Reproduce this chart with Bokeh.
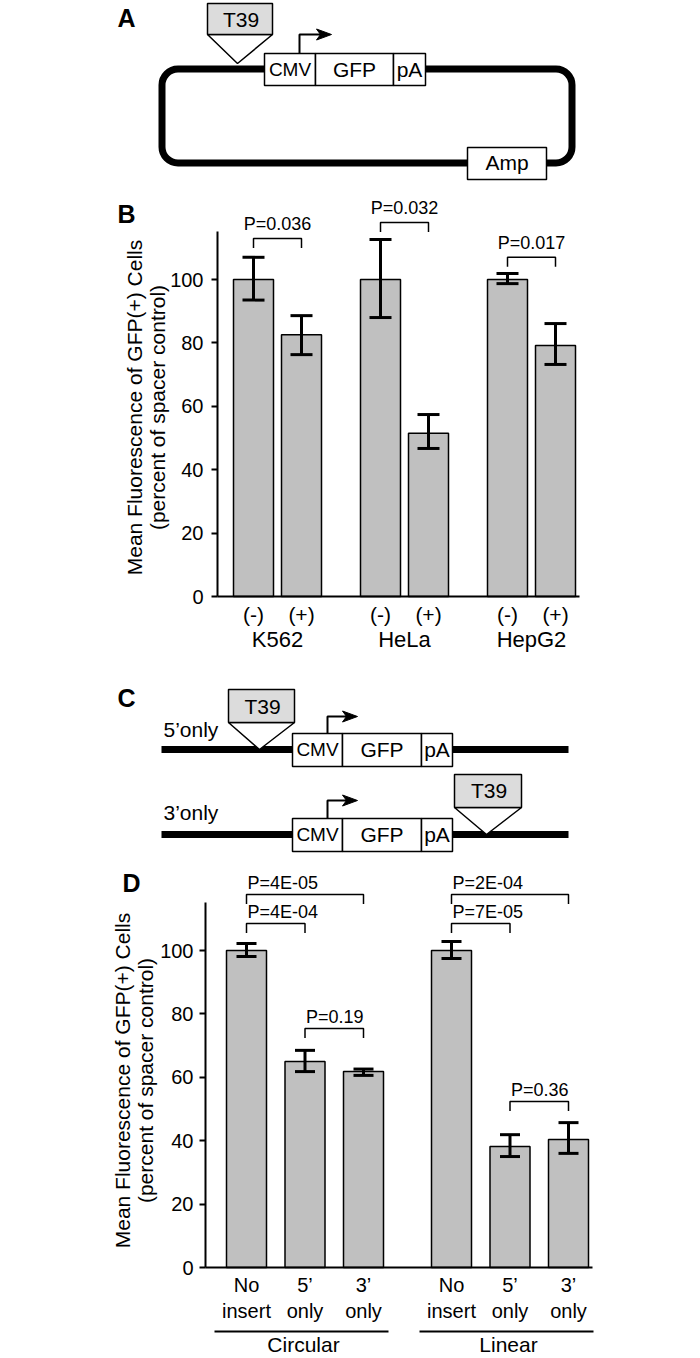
import math
from bokeh.plotting import figure
from bokeh.layouts import column
from bokeh.models import Range1d, FixedTicker
from bokeh.embed import file_html
from bokeh.resources import INLINE
from bokeh.core.properties import value

FONT = "Liberation Sans"
BAR_FILL = "#c0c0c0"
INSERT_FILL = "#dcdcdc"
W = 700
BASE_FIX = 0.4  # em correction of the text glyph's alphabetic baseline

# ---------------- data ----------------
b_groups = ["K562", "HeLa", "HepG2"]
b_subs = ["(-)", "(+)"]
b_means = [100.0, 82.6, 100.0, 51.5, 100.0, 79.2]
b_upper = [107.0, 88.6, 112.6, 57.4, 101.9, 86.1]
b_lower = [93.5, 76.3, 88.0, 46.7, 98.7, 73.2]
b_compare = [(0, 1), (2, 3), (4, 5)]
b_pvalues = ["P=0.036", "P=0.032", "P=0.017"]
b_bracket_level = [112.9, 118.0, 107.0]

d_groups = ["Circular", "Linear"]
d_subs_line1 = ["No", "5\u2019", "3\u2019"]
d_subs_line2 = ["insert", "only", "only"]
d_means = [100.0, 65.0, 61.8, 100.0, 38.2, 40.4]
d_upper = [102.2, 68.5, 62.6, 102.8, 41.9, 45.7]
d_lower = [98.1, 61.8, 60.6, 97.5, 35.0, 36.0]
d_compare = [(0, 2), (0, 1), (1, 2), (3, 5), (3, 4), (4, 5)]
d_pvalues = ["P=4E-05", "P=4E-04", "P=0.19", "P=2E-04", "P=7E-05", "P=0.36"]
d_bracket_level = [117.7, 108.5, 75.4, 117.7, 108.5, 52.4]

y_ticks = [0, 20, 40, 60, 80, 100]
y_title = ["Mean Fluorescence of GFP(+) Cells", "(percent of spacer control)"]
panel_letters = ["A", "B", "C", "D"]
construct_parts = ["CMV", "GFP", "pA"]
insert_name = "T39"
marker_name = "Amp"
linear_names = ["5\u2019only", "3\u2019only"]

PX = 3.17  # pixels per percent unit


def txt(p, x, y, t, size, align="center", bold=False, angle=0.0):
    px = float(size.replace("px", ""))
    off = -BASE_FIX * px if angle == 0.0 else 0.0
    p.text(x=x, y=y, text=t, text_font=value(FONT), text_font_size=size,
           text_align=align, text_baseline="alphabetic", text_color="black",
           text_font_style="bold" if bold else "normal", angle=angle,
           y_offset=off)


def diagram_fig(height):
    p = figure(width=W, height=height, x_range=Range1d(0, W),
               y_range=Range1d(0, height), x_axis_location=None,
               y_axis_location=None, toolbar_location=None,
               output_backend="svg", min_border=0)
    p.outline_line_color = None
    p.grid.visible = False
    return p


def box(p, Y, l, r, t, b, fill="white"):
    p.quad(left=[l], right=[r], top=[Y(t)], bottom=[Y(b)], fill_color=fill,
           line_color="black", line_width=1.5)


def cassette(p, Y, left, divs, right, top, bottom, base):
    edges = [left] + divs + [right]
    for k in range(3):
        box(p, Y, edges[k], edges[k + 1], top, bottom)
    sizes = ["19px", "21px", "21px"]
    for k, name in enumerate(construct_parts):
        txt(p, [(edges[k] + edges[k + 1]) / 2], [Y(base)], [name], sizes[k])


def promoter_arrow(p, Y, x, ybox, yturn, xtip):
    p.line(x=[x, x, xtip - 9], y=[Y(ybox), Y(yturn), Y(yturn)],
           line_color="black", line_width=2)
    p.patch(x=[xtip, xtip - 15, xtip - 11, xtip - 15],
            y=[Y(yturn), Y(yturn - 5.5), Y(yturn), Y(yturn + 5.5)],
            fill_color="black", line_color="black", line_width=1)


def insert_flag(p, Y, l, r, t, b, apex_x, apex_y, base):
    p.patch(x=[l, r, apex_x], y=[Y(b), Y(b), Y(apex_y)], fill_color="white",
            line_color="black", line_width=1.5)
    box(p, Y, l, r, t, b, INSERT_FILL)
    txt(p, [(l + r) / 2 + 1], [Y(base)], [insert_name], "21px")


# ---------------- Panel A ----------------
A_TOP, A_H = 0, 190
YA = lambda py: A_TOP + A_H - py
pA = diagram_fig(A_H)
pA.quad(left=[161.5], right=[571.5], top=[YA(68.5)], bottom=[YA(162.5)],
        fill_color=None, line_color="black", line_width=7, border_radius=16)
insert_flag(pA, YA, 207, 272, 3, 34, 237, 63, 27)
cassette(pA, YA, 264, [315, 393], 425, 53, 85, 77)
promoter_arrow(pA, YA, 299, 53, 34, 331)
box(pA, YA, 467, 546, 147, 179)
txt(pA, [506.5], [YA(170)], [marker_name], "21px")
txt(pA, [117], [YA(27)], [panel_letters[0]], "25px", align="left", bold=True)

# ---------------- Panel C ----------------
C_TOP, C_H = 656, 214
YC = lambda py: C_TOP + C_H - py
pC = diagram_fig(C_H)
for ly in (749, 834):
    pC.line(x=[161, 568], y=[YC(ly), YC(ly)], line_color="black", line_width=7)
insert_flag(pC, YC, 228, 294, 689, 722, 259, 749, 714)
cassette(pC, YC, 292, [342, 421], 452, 733, 766, 757)
promoter_arrow(pC, YC, 327, 733, 716, 357)
txt(pC, [163], [YC(737)], [linear_names[0]], "21px", align="left")
cassette(pC, YC, 292, [342, 421], 452, 818, 851, 842)
promoter_arrow(pC, YC, 327, 818, 800, 357)
insert_flag(pC, YC, 454, 521, 774, 807, 486, 834, 798)
txt(pC, [163], [YC(820)], [linear_names[1]], "21px", align="left")
txt(pC, [117], [YC(707)], [panel_letters[2]], "25px", align="left", bold=True)


# ---------------- bar panels ----------------
def bar_fig(top, height, zero_py, axis_px, standoff):
    yv = lambda py: (zero_py - py) / PX
    p = figure(width=W, height=height, x_range=Range1d(-axis_px, W - axis_px),
               y_range=Range1d(yv(top + height), yv(top)),
               x_axis_location=None, y_axis_location="left",
               toolbar_location=None, output_backend="svg", min_border=0)
    p.outline_line_color = None
    p.grid.visible = False
    ax = p.yaxis[0]
    ax.fixed_location = 0
    ax.ticker = FixedTicker(ticks=y_ticks)
    ax.bounds = (0, 115)
    ax.axis_line_width = 2
    ax.axis_line_color = "black"
    ax.major_tick_line_width = 2
    ax.major_tick_line_color = "black"
    ax.major_tick_out = 6
    ax.major_tick_in = 0
    ax.minor_tick_line_color = None
    ax.major_label_text_font = FONT
    ax.major_label_text_font_size = "20px"
    ax.major_label_text_color = "black"
    ax.major_label_standoff = standoff
    return p, yv


def draw_bars(p, xs, means, upper, lower, cap, compare, pvals, levels,
              p_align, p_gap):
    p.vbar(x=xs, width=40, top=means, bottom=0, fill_color=BAR_FILL,
           line_color="black", line_width=1.5)
    end = max(xs) + 20 + 4
    p.line(x=[0, end], y=[0, 0], line_color="black", line_width=2)
    p.segment(x0=xs, y0=lower, x1=xs, y1=upper, line_color="black", line_width=3)
    p.segment(x0=[x - cap for x in xs], y0=upper, x1=[x + cap for x in xs],
              y1=upper, line_color="black", line_width=3)
    p.segment(x0=[x - cap for x in xs], y0=lower, x1=[x + cap for x in xs],
              y1=lower, line_color="black", line_width=3)
    drop = 9.5 / PX
    bx, by_ = [], []
    for (i, j), lv in zip(compare, levels):
        bx.append([xs[i], xs[i], xs[j], xs[j]])
        by_.append([lv - drop, lv, lv, lv - drop])
    p.multi_line(xs=bx, ys=by_, line_color="black", line_width=1.5)
    if p_align == "center":
        tx = [(xs[i] + xs[j]) / 2 for i, j in compare]
    else:
        tx = [xs[i] + 1 for i, j in compare]
    txt(p, tx, [lv + p_gap / PX for lv in levels], pvals, "18px", align=p_align)


def add_titles(p, yv, axis_px, base1, base2, center_py, letter_x, letter_base,
               letter):
    fix = BASE_FIX * 21
    txt(p, [base1 - axis_px - fix, base2 - axis_px - fix], [yv(center_py)] * 2,
        y_title, "21px", angle=math.pi / 2)
    txt(p, [letter_x - axis_px], [yv(letter_base)], [letter], "25px",
        align="left", bold=True)


# Panel B
B_TOP, B_H, B_ZERO, B_AXIS = 190, 466, 596, 217
pB, ybv = bar_fig(B_TOP, B_H, B_ZERO, B_AXIS, 8)
B_X0, B_STEP, B_GSTEP = 36, 48, 127
b_x = [B_X0 + g * B_GSTEP + i * B_STEP
       for g in range(len(b_groups)) for i in range(len(b_subs))]
draw_bars(pB, b_x, b_means, b_upper, b_lower, 11, b_compare, b_pvalues,
          b_bracket_level, "center", 7)
txt(pB, b_x, [ybv(622.5)] * len(b_x), b_subs * len(b_groups), "21px")
b_gx = [(b_x[2 * g] + b_x[2 * g + 1]) / 2 for g in range(len(b_groups))]
txt(pB, b_gx, [ybv(648)] * len(b_groups), b_groups, "22px")
add_titles(pB, ybv, B_AXIS, 142, 165, 407, 117, 223, panel_letters[1])

# Panel D
D_TOP, D_H, D_ZERO, D_AXIS = 870, 488, 1267, 205
pD, ydv = bar_fig(D_TOP, D_H, D_ZERO, D_AXIS, 6)
D_X0, D_STEP, D_GSTEP = 41, 58.5, 205
n_sub = len(d_subs_line1)
d_x = [D_X0 + g * D_GSTEP + i * D_STEP
       for g in range(len(d_groups)) for i in range(n_sub)]
draw_bars(pD, d_x, d_means, d_upper, d_lower, 10, d_compare, d_pvalues,
          d_bracket_level, "left", 4)
txt(pD, d_x, [ydv(1292)] * len(d_x), d_subs_line1 * len(d_groups), "20px")
txt(pD, d_x, [ydv(1318)] * len(d_x), d_subs_line2 * len(d_groups), "20px")
ul_x, ul_y, gx = [], [], []
for g in range(len(d_groups)):
    a = d_x[g * n_sub] - 20 - 12
    b = d_x[g * n_sub + n_sub - 1] + 20 + 5
    ul_x.append([a, b])
    ul_y.append([ydv(1331), ydv(1331)])
    gx.append((a + b) / 2 + 2)
pD.multi_line(xs=ul_x, ys=ul_y, line_color="black", line_width=2)
txt(pD, gx, [ydv(1352)] * len(d_groups), d_groups, "21px")
add_titles(pD, ydv, D_AXIS, 130, 153, 1080, 122, 892, panel_letters[3])

layout = column(pA, pB, pC, pD, spacing=0)
open("out.html", "w").write(file_html(layout, INLINE))
